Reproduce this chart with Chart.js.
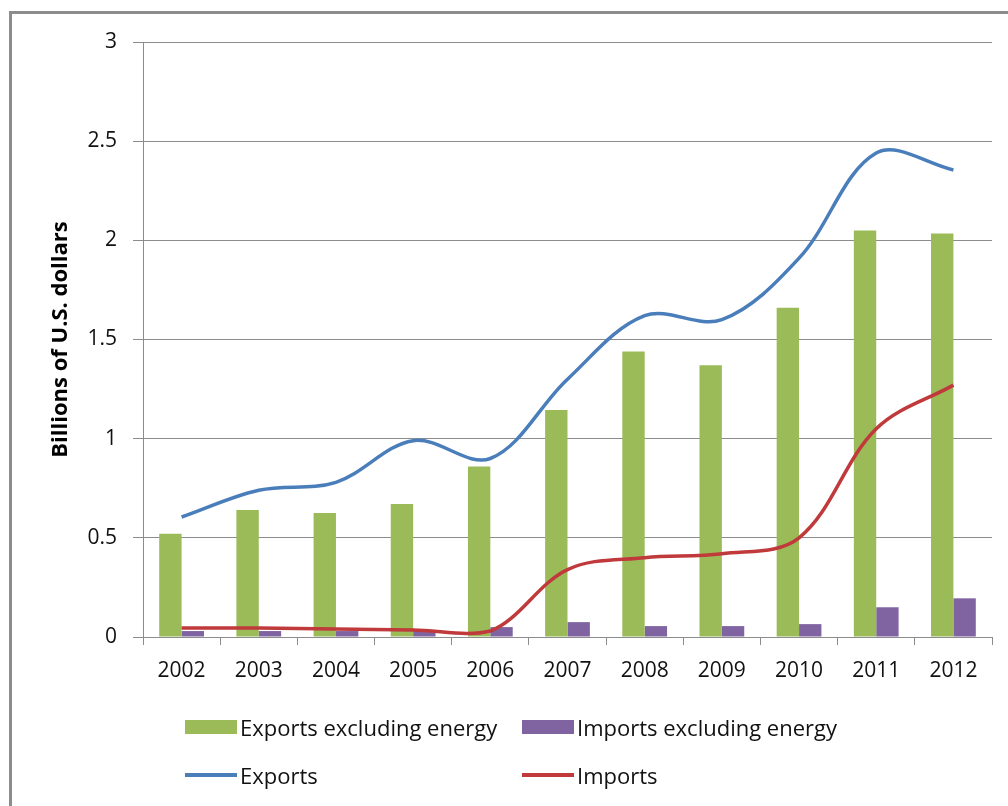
<!DOCTYPE html>
<html>
<head>
<meta charset="utf-8">
<script src="https://cdn.jsdelivr.net/npm/chart.js@4/dist/chart.umd.min.js"></script>
<style>
  html, body { margin: 0; padding: 0; background: #fff; }
  body { width: 1008px; height: 806px; position: relative; overflow: hidden; font-family: "Open Sans", sans-serif; }
  #frame { position: absolute; left: 9px; top: 11px; width: 1010px; height: 792px;
           border-left: 3px solid #8c8c8c; border-top: 3px solid #8c8c8c; }
  #wrap { position: absolute; left: 0; top: 0; width: 1008px; height: 700px; }
  #legend { position: absolute; left: 0; top: 0; width: 1008px; height: 806px; pointer-events: none; }
  .item { position: absolute; display: flex; align-items: center; font-size: 22px; color: #111; white-space: nowrap; }
  .swatch { width: 52px; margin-right: 3px; }
</style>
</head>
<body>
<div id="frame"></div>
<div id="wrap"><canvas id="chart"></canvas></div>
<div id="legend"></div>
<script>
// ================= Data =================
const years = ['2002', '2003', '2004', '2005', '2006', '2007', '2008', '2009', '2010', '2011', '2012'];
const exportsExEnergy = [0.52, 0.64, 0.625, 0.67, 0.86, 1.145, 1.44, 1.37, 1.66, 2.05, 2.035];
const importsExEnergy = [0.03, 0.03, 0.03, 0.03, 0.05, 0.075, 0.055, 0.055, 0.065, 0.15, 0.195];
const exportsTotal = [0.605, 0.74, 0.78, 0.99, 0.90, 1.30, 1.62, 1.60, 1.91, 2.44, 2.355];
const importsTotal = [0.045, 0.045, 0.04, 0.035, 0.03, 0.34, 0.40, 0.42, 0.50, 1.05, 1.27];
const yTicks = [0, 0.5, 1, 1.5, 2, 2.5, 3];

const tickFont = { family: 'Open Sans', size: 21 };
const axisGrey = '#8c8c8c';

// ================= Chart =================
const ctx = document.getElementById('chart').getContext('2d');
const chart = new Chart(ctx, {
  type: 'bar',
  data: {
    labels: years,
    datasets: [
      {
        type: 'line',
        label: 'Exports',
        data: exportsTotal,
        borderColor: '#4a7ebb',
        borderWidth: 3.5,
        tension: 0.35,
        pointRadius: 0,
        fill: false,
        order: 0
      },
      {
        type: 'line',
        label: 'Imports',
        data: importsTotal,
        borderColor: '#c0393b',
        borderWidth: 3.5,
        tension: 0.35,
        pointRadius: 0,
        fill: false,
        order: 0
      },
      {
        label: 'Exports excluding energy',
        data: exportsExEnergy,
        backgroundColor: '#9bbb59',
        categoryPercentage: 0.58,
        barPercentage: 1,
        order: 1
      },
      {
        label: 'Imports excluding energy',
        data: importsExEnergy,
        backgroundColor: '#8064a2',
        categoryPercentage: 0.58,
        barPercentage: 1,
        order: 1
      }
    ]
  },
  options: {
    responsive: true,
    maintainAspectRatio: false,
    animation: false,
    layout: { padding: { top: 42, right: 16, bottom: 13, left: 0 } },
    plugins: { legend: { display: false }, tooltip: { enabled: false } },
    scales: {
      x: {
        offset: true,
        grid: { offset: true, drawOnChartArea: false, drawTicks: true, tickLength: 8, color: axisGrey },
        border: { color: axisGrey, width: 1 },
        ticks: { font: tickFont, color: '#111', padding: 13, maxRotation: 0 },
        afterFit: s => { s.height = 50; }
      },
      y: {
        min: 0,
        max: 3,
        afterBuildTicks: s => { s.ticks = yTicks.map(v => ({ value: v })); },
        grid: { color: axisGrey, tickLength: 10 },
        border: { color: axisGrey, width: 1 },
        ticks: { font: tickFont, color: '#111', padding: 16, callback: v => String(v) },
        title: {
          display: true,
          text: 'Billions of U.S. dollars',
          font: { family: 'Open Sans', size: 22, weight: 'bold' },
          color: '#000',
          padding: { top: 48, bottom: 0 }
        },
        afterFit: s => { s.width = 143; }
      }
    }
  }
});

// ================= Legend =================
const legendSlots = {
  'Exports excluding energy': { left: 185, top: 727, kind: 'box' },
  'Imports excluding energy': { left: 522, top: 727, kind: 'box' },
  'Exports': { left: 185, top: 775, kind: 'line' },
  'Imports': { left: 522, top: 775, kind: 'line' }
};

function buildLegend() {
  const legend = document.getElementById('legend');
  chart.data.datasets.forEach(ds => {
    const slot = legendSlots[ds.label];
    const item = document.createElement('div');
    item.className = 'item';
    item.style.left = slot.left + 'px';
    item.style.top = (slot.top - 14) + 'px';
    item.style.height = '28px';
    const sw = document.createElement('span');
    sw.className = 'swatch';
    sw.style.height = slot.kind === 'box' ? '14px' : '4px';
    sw.style.background = slot.kind === 'box' ? ds.backgroundColor : ds.borderColor;
    const txt = document.createElement('span');
    txt.textContent = ds.label;
    item.appendChild(sw);
    item.appendChild(txt);
    legend.appendChild(item);
  });
}
buildLegend();
</script>
</body>
</html>
